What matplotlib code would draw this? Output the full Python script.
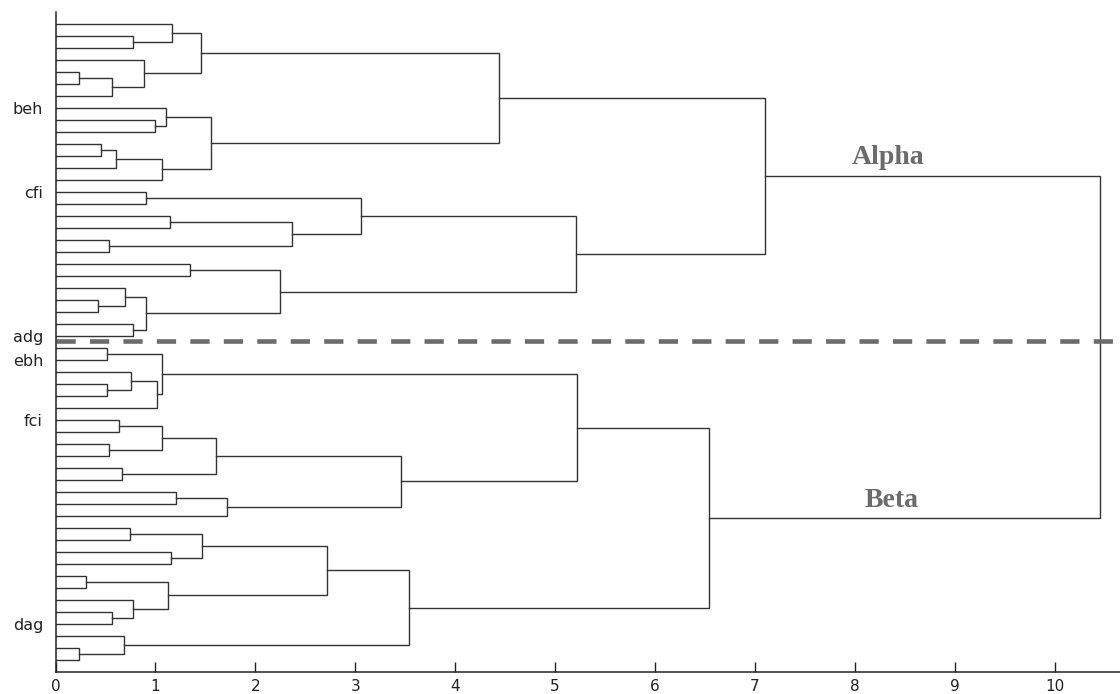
import matplotlib
matplotlib.use("Agg")
import matplotlib.pyplot as plt
import numpy as np

# leaves are rows 1..54 from top to bottom (ids 0..53); each merge creates id 54, 55, ...
MERGE_LEFT = [
    1, 0, 4, 56, 3, 55, 8, 7, 10, 62, 63, 61, 59,
    14, 16, 18, 68, 67, 20, 23, 22, 25, 74, 72, 71, 66,
    27, 30, 29, 82, 80, 33, 35, 85, 37, 87, 39, 90, 89, 84,
    42, 44, 94, 46, 49, 48, 97, 96, 52, 51, 101, 93, 79,
]
MERGE_RIGHT = [
    2, 54, 5, 6, 57, 58, 9, 60, 11, 12, 13, 64, 65,
    15, 17, 19, 69, 70, 21, 24, 73, 26, 75, 76, 77, 78,
    28, 31, 81, 32, 83, 34, 36, 86, 38, 88, 40, 41, 91, 92,
    43, 45, 95, 47, 50, 98, 99, 100, 53, 102, 103, 104, 105,
]
MERGE_HEIGHT = [
    0.78, 1.17, 0.24, 0.57, 0.89, 1.46, 1.00, 1.11, 0.46, 0.61, 1.07, 1.56, 4.44,
    0.91, 1.15, 0.54, 2.37, 3.06, 1.35, 0.43, 0.70, 0.78, 0.91, 2.25, 5.21, 7.10,
    0.52, 0.52, 0.76, 1.02, 1.07, 0.64, 0.54, 1.07, 0.67, 1.61, 1.21, 1.72, 3.46, 5.22,
    0.75, 1.16, 1.47, 0.31, 0.57, 0.78, 1.13, 2.72, 0.24, 0.69, 3.54, 6.54, 10.46,
]
N_LEAVES = 54

LABEL_ROWS = [8, 15, 27, 29, 34, 51]
LABELS = ["beh", "cfi", "adg", "ebh", "fci", "dag"]

CUT_ROW = 27.45
GROUP_NAMES = ["Alpha", "Beta"]
GROUP_X = [8.33, 8.37]
GROUP_Y = [12.1, 40.7]

LINE_COLOR = "#333333"
GRAY = "#6b6b6b"

# positions of every node: leaves at rows 1..N, merges at midpoint of children
node_y = list(np.arange(1, N_LEAVES + 1, dtype=float))
node_h = [0.0] * N_LEAVES
for left, right, height in zip(MERGE_LEFT, MERGE_RIGHT, MERGE_HEIGHT):
    node_y.append((node_y[left] + node_y[right]) / 2)
    node_h.append(height)

fig = plt.figure(figsize=(11.2, 6.94), dpi=100)
ax = fig.add_axes([55.5 / 1120, 22.3 / 694, 1 - 55.5 / 1120, (671.7 - 12) / 694])

for left, right, height in zip(MERGE_LEFT, MERGE_RIGHT, MERGE_HEIGHT):
    ax.plot(
        [node_h[left], height, height, node_h[right]],
        [node_y[left], node_y[left], node_y[right], node_y[right]],
        color=LINE_COLOR,
        lw=1.0,
        solid_joinstyle="miter",
    )

x_max = (1120 - 55.5) / 99.9
ax.plot(
    [0, x_max],
    [CUT_ROW, CUT_ROW],
    color=GRAY,
    lw=3.3,
    linestyle=(0, (4.2, 3.1)),
    dash_capstyle="butt",
)

for name, gx, gy in zip(GROUP_NAMES, GROUP_X, GROUP_Y):
    ax.text(
        gx, gy, name,
        ha="center", va="center",
        fontsize=20, fontweight="bold",
        family="Liberation Serif", color=GRAY,
    )

ax.set_xlim(0, x_max)
ax.set_ylim(N_LEAVES + 1, 0)
ax.set_xticks(range(0, 11))
ax.set_yticks(LABEL_ROWS)
ax.set_yticklabels(LABELS)

ax.tick_params(axis="x", direction="in", length=7, width=1.0, pad=5,
               labelsize=11, colors="#222222")
ax.tick_params(axis="y", length=0, pad=9, labelsize=11.5, colors="#222222")

for side in ["top", "right"]:
    ax.spines[side].set_visible(False)
for side in ["left", "bottom"]:
    ax.spines[side].set_linewidth(1.1)
    ax.spines[side].set_color("#222222")

fig.savefig("out.png", dpi=100)
